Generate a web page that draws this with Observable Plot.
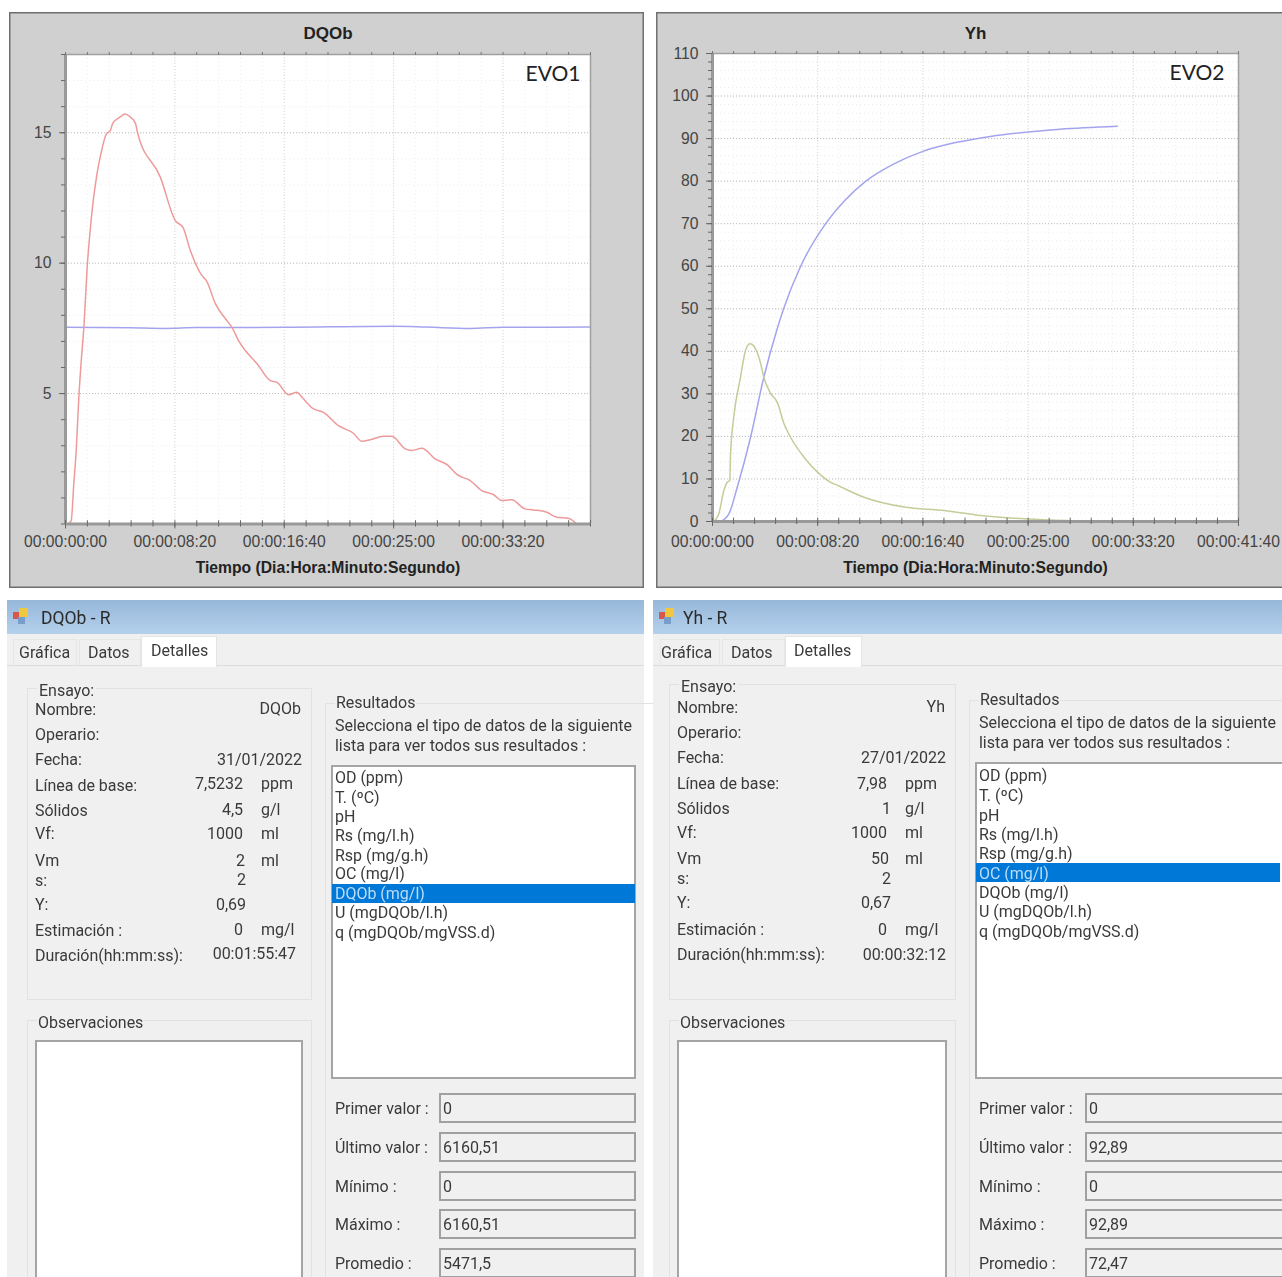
<!DOCTYPE html>
<html lang="es">
<head>
<meta charset="utf-8">
<title>DQOb y Yh</title>
<script src="https://cdn.jsdelivr.net/npm/d3@7"></script>
<script src="https://cdn.jsdelivr.net/npm/@observablehq/plot@0.6"></script>
<style>
html,body{margin:0;padding:0;background:#fff}
#page{position:relative;width:1282px;height:1277px;overflow:hidden;font-family:Roboto,sans-serif;font-size:16px;letter-spacing:-.02px;color:#3a3a3a}
#page svg{position:absolute;letter-spacing:0}
.box{position:absolute;box-sizing:border-box}
.t{position:absolute;white-space:nowrap;line-height:17px;transform:translateY(-8.5px)}
.r{transform:translate(-100%,-8.5px)}
.grp{border:1px solid #e2e2e2}
.input{border:2px solid #a5a5a5;background:#fff}
.field{border:2px solid #a0a0a0;background:#f0f0f0}
.soft{filter:blur(.35px)}
</style>
</head>
<body>
<div id="page"></div>
<script>
// ---------- Chart 1: DQOb ----------
const dqobTime = [11,26,38,49,61,72,84,99,117,145,160,187,205,215,240,259,272,288,320,329,434,502,537,571,624,644,685,744,761,791,822,875,936,967,1020,1058,1081,1134,1179,1248,1316,1355,1393,1453,1492,1553,1583,1629,1689,1750,1789,1849,1903,1956,1994,2040,2100,2138,2200,2245,2298,2337];
const dqobValue = [0,0.13,1.55,2.82,4.86,6.26,7.54,9.83,11.63,13.47,14.12,14.96,15.08,15.34,15.55,15.66,15.72,15.66,15.36,15.01,13.29,11.63,11.37,10.48,9.52,9.33,8.45,7.73,7.54,7.03,6.65,6.15,5.5,5.43,4.96,5.05,4.86,4.41,4.28,3.77,3.48,3.17,3.23,3.36,3.36,2.88,2.82,2.9,2.5,2.24,1.9,1.67,1.28,1.13,0.9,0.93,0.58,0.54,0.45,0.26,0.22,0];
const baseTime = [0,300,450,600,1000,1500,1650,1850,2000,2400];
const baseValue = [7.54,7.52,7.5,7.53,7.54,7.58,7.55,7.5,7.54,7.55];

// ---------- Chart 2: Yh ----------
const yhOcTime = [6,30,54,70,82,86,101,133,157,178,205,229,244,276,308,340,371,435,499,562,594,720,911,1101,1276,1610,1848];
const yhOcValue = [0,1.8,7.29,9.24,9.64,15.98,24.5,33.9,40.2,41.8,40.6,37.1,33.9,30.1,28,23,19.8,15.1,11.6,9.2,8.5,5.7,3.4,2.6,1.4,0.35,0];
const yhBlueTime = [38,78,118,181,244,305,338,419,538,630,729,860,1000,1150,1320,1650,1924];
const yhBlueValue = [0,1.8,8.1,19.8,33.9,44.9,50,60,70,75.5,80,84,87,89,90.5,92.2,92.9];

// ---------- Form text ----------
const ensayoLabels = ["Nombre:","Operario:","Fecha:","Línea de base:","Sólidos","Vf:","Vm","s:","Y:","Estimación :","Duración(hh:mm:ss):"];
const dqobDetails = ["DQOb","","31/01/2022","7,5232","4,5","1000","2","2","0,69","0","00:01:55:47"];
const dqobUnits = ["","","","ppm","g/l","ml","ml","","","mg/l",""];
const yhDetails = ["Yh","","27/01/2022","7,98","1","1000","50","2","0,67","0","00:00:32:12"];
const yhUnits = ["","","","ppm","g/l","ml","ml","","","mg/l",""];
const resultOptions = ["OD (ppm)","T. (ºC)","pH","Rs (mg/l.h)","Rsp (mg/g.h)","OC (mg/l)","DQOb (mg/l)","U (mgDQOb/l.h)","q (mgDQOb/mgVSS.d)"];
const statLabels = ["Primer valor :","Último valor :","Mínimo :","Máximo :","Promedio :"];
const dqobStats = ["0","6160,51","0","6160,51","5471,5"];
const yhStats = ["0","92,89","0","92,89","72,47"];
const tabs = ["Gráfica","Datos","Detalles"];

const page = document.getElementById("page");
const toRows = (xs, ys) => xs.map((x, i) => ({x, y: ys[i]}));
const fmtTime = s => {
  const m = Math.floor(s / 60), ss = s % 60;
  return `00:00:${String(m).padStart(2, "0")}:${String(ss).padStart(2, "0")}`;
};

function chart(o) {
  const xMajor = d3.range(0, o.xMax + 1, 500);
  const xMinor = d3.range(0, o.xMax + 1, 100);
  const yMinor = d3.range(0, o.yMax + 1e-6, o.yMinorStep);
  const inner = o.yMax * 0.007;
  const svg = Plot.plot({
    width: o.width, height: 576,
    marginLeft: o.ml, marginRight: o.mr, marginTop: o.mt, marginBottom: o.mb,
    x: {domain: [0, o.xMax]},
    y: {domain: [0, o.yMax]},
    style: {background: "#d0d0d0", fontFamily: "'Liberation Sans',sans-serif", fontSize: "15.7px", color: "#444", left: o.left + "px", top: "12px", boxShadow: o.border, overflow: "visible"},
    marks: [
      Plot.frame({fill: "white", stroke: "none"}),
      Plot.gridY(yMinor, {stroke: "#dcdcdc", strokeOpacity: .5, strokeDasharray: "1 3"}),
      Plot.gridX(xMinor, {stroke: "#dcdcdc", strokeOpacity: .5, strokeDasharray: "1 3"}),
      Plot.gridX(xMajor, {stroke: "#cfcfcf", strokeOpacity: .8, strokeDasharray: "1 2"}),
      Plot.gridY(o.yMajor, {stroke: "#b5b5b5", strokeOpacity: .9, strokeDasharray: "1 2"}),
      ...o.lines.map(l => Plot.line(toRows(l.xs, l.ys), {x: "x", y: "y", stroke: l.color, strokeWidth: 1.5, curve: "monotone-x"})),
      Plot.ruleY([0], {stroke: "#999", strokeWidth: 3}),
      Plot.ruleX([0], {stroke: "#999", strokeWidth: 3}),
      Plot.ruleY([o.yMax], {stroke: "#a0a0a0", strokeWidth: 1.5}),
      Plot.ruleX([o.xMax], {stroke: "#a0a0a0", strokeWidth: 1.5}),
      Plot.axisX({anchor: "bottom", ticks: xMinor, tickSize: 3, tickFormat: () => "", label: null, stroke: "#666"}),
      Plot.axisX({anchor: "top", ticks: xMinor, tickSize: 3, tickFormat: () => "", label: null, stroke: "#777"}),
      Plot.axisX({anchor: "bottom", ticks: xMajor, tickSize: 5, tickPadding: o.xPad, tickFormat: fmtTime, label: null, stroke: "#666"}),
      Plot.ruleX(xMinor, {y1: 0, y2: inner, stroke: "#666"}),
      Plot.axisY({anchor: "left", ticks: yMinor, tickSize: 4, tickFormat: () => "", label: null, stroke: "#666"}),
      Plot.axisY({anchor: "left", ticks: o.yMajor, tickSize: 6, tickPadding: 8, tickFormat: d => d, label: null, stroke: "#666"}),
      Plot.text([o.title], {frameAnchor: "top", dy: o.titleDy, fontWeight: "bold", fontSize: 17, fill: "#222"}),
      Plot.text([o.xLabel], {frameAnchor: "bottom", dy: o.labelDy, fontWeight: "bold", fontSize: 15.7, fill: "#222"}),
      Plot.text([o.tag], {frameAnchor: "top-right", dx: o.tagDx, dy: 12, fontFamily: "Lato", fontSize: 21, fill: "#222"})
    ]
  });
  page.appendChild(svg);
}

chart({
  left: 9, width: 635, ml: 56, mr: 54, mt: 42, mb: 64.5, xPad: 7, titleDy: -28, labelDy: 49, tagDx: -10,
  border: "inset 1.5px 1.5px 0 #6f6f6f, inset -1.5px -1.5px 0 #6f6f6f",
  xMax: 2400, yMax: 18, yMajor: [5, 10, 15], yMinorStep: 1,
  title: "DQOb", tag: "EVO1", xLabel: "Tiempo (Dia:Hora:Minuto:Segundo)",
  lines: [{xs: baseTime, ys: baseValue, color: "#a4a4ee"}, {xs: dqobTime, ys: dqobValue, color: "#ee9a9a"}]
});
chart({
  left: 656, width: 626, ml: 56, mr: 44, mt: 41, mb: 67, xPad: 9, titleDy: -27, labelDy: 51, tagDx: -14,
  border: "inset 1.5px 1.5px 0 #6f6f6f, inset 0 -1.5px 0 #6f6f6f",
  xMax: 2500, yMax: 110, yMajor: d3.range(0, 111, 10), yMinorStep: 2,
  title: "Yh", tag: "EVO2", xLabel: "Tiempo (Dia:Hora:Minuto:Segundo)",
  lines: [{xs: yhBlueTime, ys: yhBlueValue, color: "#a4a4ee"}, {xs: yhOcTime, ys: yhOcValue, color: "#c4cc98"}]
});

function el(parent, cls, x, y, w, h, txt, style) {
  const d = document.createElement("div");
  d.className = cls;
  d.style.left = x + "px"; d.style.top = y + "px";
  if (w != null) d.style.width = w + "px";
  if (h != null) d.style.height = h + "px";
  if (txt != null) d.textContent = txt;
  if (style) d.style.cssText += style;
  parent.appendChild(d);
  return d;
}

function form(o) {
  const g = o.g, W = o.right;
  const soft = el(page, "box soft", 0, 0, 1282, 1277);
  el(soft, "box", o.x0, 600, W - o.x0, 677, null, "background:#f0f0f0");
  el(soft, "box", o.x0, 600, W - o.x0, 34, null, "background:linear-gradient(#97b8da,#b4d0ec)");
  el(soft, "box", o.x0 + 6, 612, 7, 7, null, "background:#d8574a");
  el(soft, "box", o.x0 + 12, 608, 9, 9, null, "background:#f0c840");
  el(soft, "box", o.x0 + 11, 617, 7, 7, null, "background:#7a9cc8");
  el(soft, "t", o.titleX, 618, null, null, o.title, "font-size:17.5px;color:#2b2b2b");
  // tabs
  el(soft, "box", o.x0, 665, W - o.x0, 1, null, "background:#dcdcdc");
  el(soft, "box", o.tabX[0], 639, o.tabX[1] - o.tabX[0] - 2, 26, null, "border:1px solid #e6e6e6;border-bottom:none");
  el(soft, "box", o.tabX[1], 639, o.tabX[2] - o.tabX[1], 26, null, "border:1px solid #e6e6e6;border-bottom:none");
  el(soft, "box", o.tabX[2], 636, o.tabX[3] - o.tabX[2], 31, null, "background:#fff;border:1px solid #e4e4e4;border-bottom:none");
  tabs.forEach((t, i) => el(soft, "t", o.tabTx[i], i == 2 ? 650 : 652, null, null, t));
  // group boxes
  el(soft, "box grp", g.ex, g.ey, g.ew, 1000 - g.ey);
  el(soft, "t", g.ex + 10, g.ey + 2, null, null, "Ensayo:", "background:#f0f0f0;padding:0 2px");
  el(soft, "box grp", g.ex, 1020, g.ew, 280);
  el(soft, "t", g.ex + 10, 1022, null, null, "Observaciones", "background:#f0f0f0;padding:0 1px");
  el(soft, "box input", g.ex + 8, 1040, g.ew - 17, 240);
  o.rowY.forEach((y, i) => {
    el(soft, "t", g.ex + 8, y, null, null, ensayoLabels[i]);
    const v = o.details[i];
    if (v) el(soft, "t r", o.valX[i], o.valY[i], null, null, v);
    if (o.units[i]) el(soft, "t", o.unitX, o.valY[i], null, null, o.units[i]);
  });
  // resultados
  el(soft, "box grp", g.rx, g.ry, W - g.rx + 10, 700);
  el(soft, "t", g.rx + 10, g.ry - 1, null, null, "Resultados", "background:#f0f0f0;padding:0 1px");
  el(soft, "t", g.rx + 10, g.ry + 22, null, null, "Selecciona el tipo de datos de la siguiente");
  el(soft, "t", g.rx + 10, g.ry + 42, null, null, "lista para ver todos sus resultados :");
  el(soft, "box input", g.lx, g.ly, g.lw, 1079 - g.ly);
  el(soft, "box", g.lx + 1, o.selY, o.selW, 19, null, "background:#0078d7");
  resultOptions.forEach((t, i) => el(soft, "t", g.lx + 4, o.listY[i], null, null, t, i == o.selected ? "color:#bcdcf7" : ""));
  statLabels.forEach((t, i) => {
    const y = [1093, 1132, 1171, 1209, 1248][i];
    el(soft, "t", g.lx + 4, y + 15, null, null, t);
    el(soft, "box field", g.fx, y, g.fw, 30);
    el(soft, "t", g.fx + 4, y + 15, null, null, o.stats[i]);
  });
}

form({
  title: "DQOb - R", titleX: 41, x0: 7, right: 644, selected: 6, selY: 884, selW: 303,
  tabX: [13, 79, 141, 217], tabTx: [19, 88, 151],
  g: {ex: 27, ey: 688, ew: 285, rx: 325, ry: 703, lx: 331, ly: 765, lw: 305, fx: 439, fw: 197},
  rowY: [709, 734, 759, 785, 810, 833, 860, 880, 904, 930, 955],
  valY: [708, 734, 759, 783, 809, 833, 860, 879, 904, 929, 953],
  valX: [301, 0, 302, 243, 243, 243, 245, 246, 246, 243, 296],
  unitX: 261, details: dqobDetails, units: dqobUnits, stats: dqobStats,
  listY: [777, 797, 816, 835, 855, 873, 893, 912, 932]
});
form({
  title: "Yh - R", titleX: 683, x0: 653, right: 1282, selected: 5, selY: 863, selW: 304,
  tabX: [660, 722, 785, 862], tabTx: [661, 731, 794],
  g: {ex: 669, ey: 684, ew: 287, rx: 969, ry: 700, lx: 975, ly: 762, lw: 310, fx: 1085, fw: 200},
  rowY: [707, 732, 757, 783, 808, 832, 858, 878, 902, 929, 954],
  valY: [706, 732, 757, 783, 808, 832, 858, 878, 902, 929, 954],
  valX: [945, 0, 946, 887, 891, 887, 889, 891, 891, 887, 946],
  unitX: 905, details: yhDetails, units: yhUnits, stats: yhStats,
  listY: [775, 795, 815, 834, 853, 873, 892, 911, 931]
});
</script>
</body>
</html>
